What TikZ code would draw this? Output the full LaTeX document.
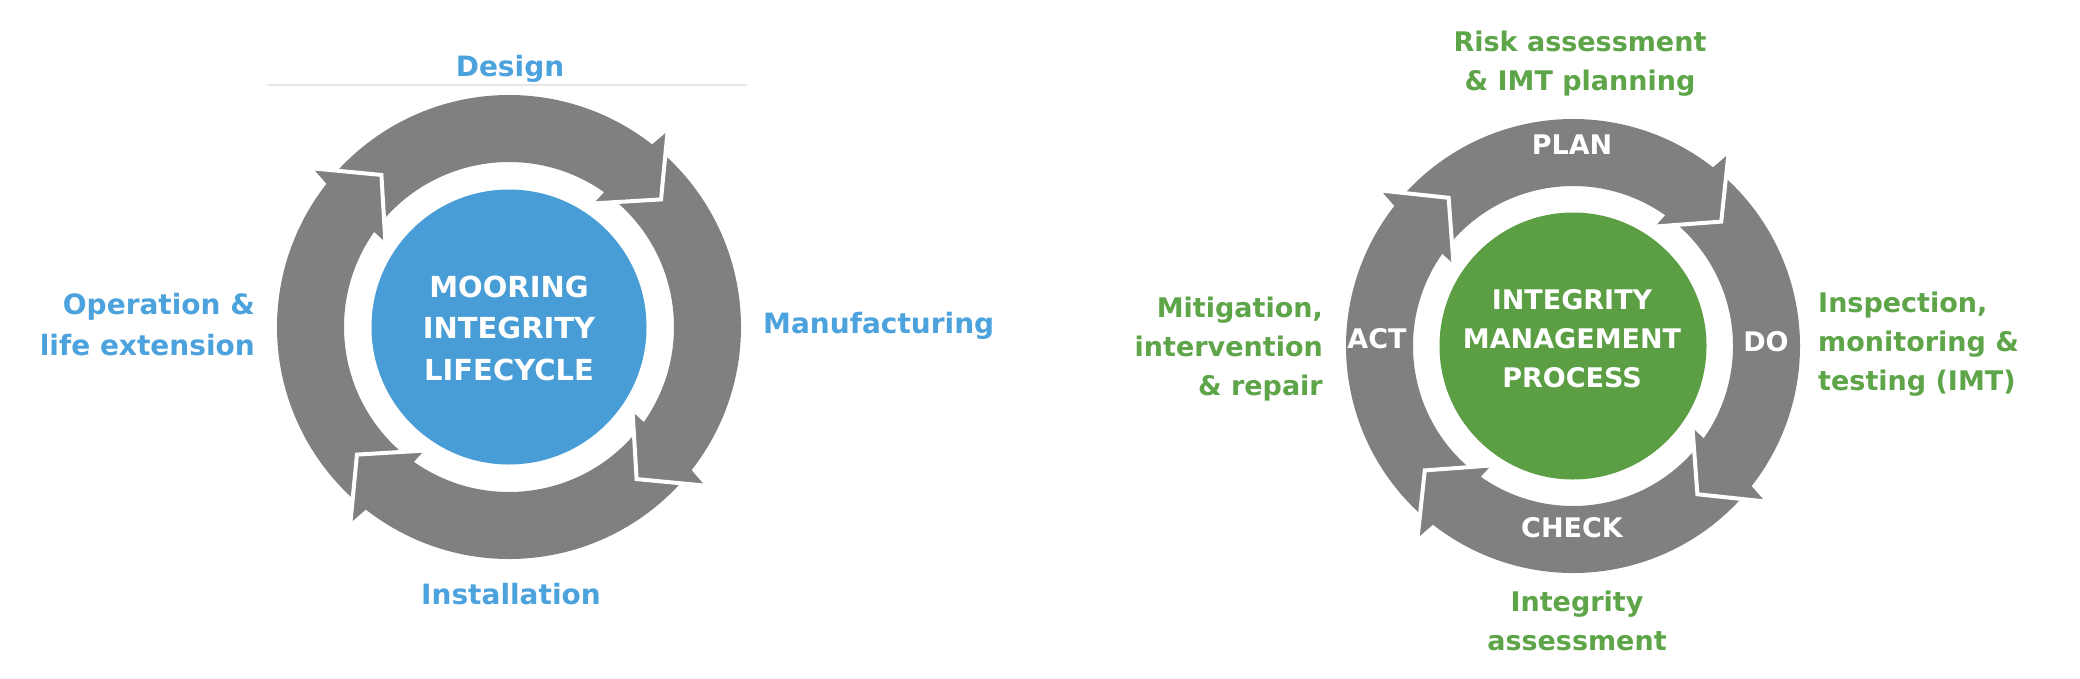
\documentclass[tikz,border=0pt]{standalone}
\usepackage{fontspec}
\setmainfont{DejaVu Sans}
\definecolor{cgray}{HTML}{808080}
\definecolor{cblue}{HTML}{489DD6}
\definecolor{cbluetxt}{HTML}{4BA2DD}
\definecolor{cgreen}{HTML}{5B9E44}
\definecolor{cgreentxt}{HTML}{5DA548}
\definecolor{cline}{HTML}{E6E6E6}
\newcommand\ringarrows[2]{%
  \pgfmathsetmacro\Rm{(#1+#2)/2}%
  \pgfmathsetmacro\Rb{#1+20}%
  \pgfmathsetmacro\Rc{#2-15}%
  \foreach \t in {40,-50,-140,130}{%
    \pgfmathsetmacro\ta{\t+102}%
    \pgfmathsetmacro\tb{\t+11.9}%
    \pgfmathsetmacro\tc{\t+11}%
    \pgfmathsetmacro\td{\t+15.5}%
    \pgfmathsetmacro\te{\t+14.8}%
    \fill[arrowfill] (\ta:#1pt) arc[start angle=\ta, end angle=\tb, radius=#1pt]
      -- (\tc:\Rb pt) -- (\t:\Rm pt) -- (\td:\Rc pt) -- (\te:#2pt)
      arc[start angle=\te, end angle=\ta, radius=#2pt] -- cycle;
  }%
  \foreach \t in {40,-50,-140,130}{%
    \pgfmathsetmacro\tc{\t+11}%
    \pgfmathsetmacro\td{\t+15.5}%
    \fill[arrowfill] (\tc:\Rb pt) -- (\t:\Rm pt) -- (\td:\Rc pt) -- cycle;
    \draw[gapline] (\tc:\Rb pt) -- (\t:\Rm pt) -- (\td:\Rc pt);
  }%
}
\begin{document}
\begin{tikzpicture}[x=1pt,y=1pt,
  arrowfill/.style={fill=cgray},
  gapline/.style={draw=white, line width=4pt, line join=miter},
  lblfont/.style={font=\fontsize{27}{41}\selectfont\bfseries, inner sep=0pt},
  bluelbl/.style={lblfont, text=cbluetxt, font=\fontsize{28}{41}\selectfont\bfseries},
  greenlbl/.style={lblfont, text=cgreentxt, font=\fontsize{27}{39}\selectfont\bfseries},
  hubtxt/.style={lblfont, text=white, align=center},
  ringtxt/.style={lblfont, text=white, font=\fontsize{27}{30}\selectfont\bfseries}]
\useasboundingbox (0,0) rectangle (2080,-678);
\fill[white] (0,0) rectangle (2080,-678);

% ---------- left cycle ----------
\coordinate (l1) at (268,-85);
\coordinate (l2) at (747,-85);
\draw[cline, line width=1.5pt] (l1) -- (l2);
\begin{scope}[shift={(509,-327)}]
  \ringarrows{232}{165}
\end{scope}
\node[circle, fill=cblue, minimum size=275pt, inner sep=0pt] (hub1) at (509,-327) {};
\node[hubtxt, anchor=base, font=\fontsize{29}{41.5}\selectfont\bfseries] (hubtxt1) at (509,-380) {MOORING\\INTEGRITY\\LIFECYCLE};
\node[bluelbl, anchor=base] (design) at (510,-76) {Design};
\node[bluelbl, anchor=base west] (manuf) at (763,-333) {Manufacturing};
\node[bluelbl, anchor=base] (install) at (511,-604) {Installation};
\node[bluelbl, anchor=base east, align=right] (oper) at (255,-355) {Operation \&\\life extension};

% ---------- right cycle ----------
\begin{scope}[shift={(1573,-346)}]
  \ringarrows{227}{160}
\end{scope}
\node[circle, fill=cgreen, minimum size=267pt, inner sep=0pt] (hub2) at (1573,-346) {};
\node[hubtxt, anchor=base, font=\fontsize{27}{39}\selectfont\bfseries] (hubtxt2) at (1572,-387) {INTEGRITY\\MANAGEMENT\\PROCESS};
\node[ringtxt, anchor=base] (plan) at (1572,-154) {PLAN};
\node[ringtxt, anchor=base] (do) at (1766,-351) {DO};
\node[ringtxt, anchor=base] (check) at (1572,-537) {CHECK};
\node[ringtxt, anchor=base] (act) at (1377,-348) {ACT};
\node[greenlbl, anchor=base, align=center] (risk) at (1580,-90) {Risk assessment\\\& IMT planning};
\node[greenlbl, anchor=base west, align=left] (insp) at (1818,-390) {Inspection,\\monitoring \&\\testing (IMT)};
\node[greenlbl, anchor=base east, align=right] (mitig) at (1323,-395) {Mitigation,\\intervention\\\& repair};
\node[greenlbl, anchor=base, align=center] (integ) at (1577,-650) {Integrity\\assessment};
\end{tikzpicture}
\end{document}
